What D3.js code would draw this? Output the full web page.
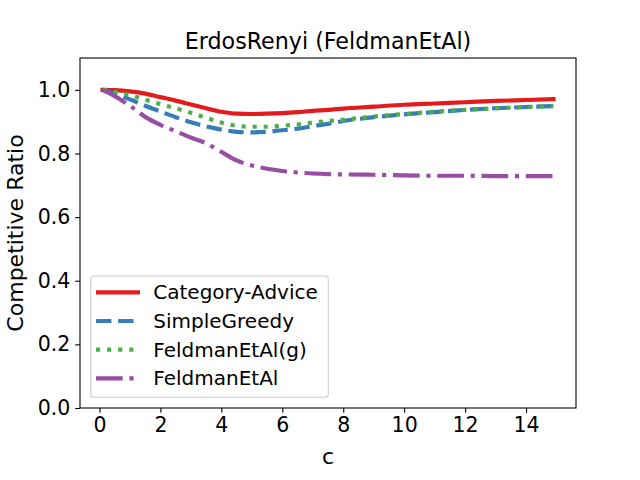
<!DOCTYPE html>
<html>
<head>
<meta charset="utf-8">
<script src="https://cdn.jsdelivr.net/npm/d3@7"></script>
<style>
body { margin: 0; background: #fff; }
svg { display: block; font-family: "DejaVu Sans", sans-serif; }
</style>
</head>
<body>
<svg id="chart" width="640" height="480"></svg>
<script>
const title = "ErdosRenyi (FeldmanEtAl)";
const xLabel = "c";
const yLabel = "Competitive Ratio";
const cValues = [0.1, 0.5, 1.0, 1.5, 2.0, 2.5, 3.0, 3.5, 4.0, 4.5, 5.0, 5.5, 6.0, 6.5, 7.0, 7.5, 8, 9, 10, 11, 12, 13, 14, 14.9];
const seriesNames = ["Category-Advice", "SimpleGreedy", "FeldmanEtAl(g)", "FeldmanEtAl"];
const categoryAdvice = [1.000, 0.999, 0.995, 0.988, 0.977, 0.966, 0.954, 0.942, 0.931, 0.925, 0.924, 0.925, 0.927, 0.930, 0.934, 0.937, 0.941, 0.947, 0.953, 0.957, 0.961, 0.965, 0.968, 0.971];
const simpleGreedy = [1.000, 0.988, 0.970, 0.950, 0.932, 0.914, 0.898, 0.885, 0.875, 0.868, 0.866, 0.868, 0.873, 0.878, 0.886, 0.893, 0.902, 0.914, 0.923, 0.930, 0.937, 0.942, 0.946, 0.949];
const feldmanG = [1.000, 0.994, 0.983, 0.969, 0.955, 0.942, 0.928, 0.912, 0.897, 0.887, 0.884, 0.884, 0.887, 0.891, 0.897, 0.902, 0.906, 0.916, 0.924, 0.931, 0.937, 0.942, 0.946, 0.949];
const feldman = [1.000, 0.980, 0.950, 0.915, 0.890, 0.870, 0.850, 0.832, 0.805, 0.778, 0.762, 0.752, 0.745, 0.740, 0.737, 0.735, 0.734, 0.733, 0.731, 0.730, 0.730, 0.729, 0.729, 0.729];
const xTicks = [0, 2, 4, 6, 8, 10, 12, 14];
const yTicks = [0.0, 0.2, 0.4, 0.6, 0.8, 1.0];

const allSeries = [categoryAdvice, simpleGreedy, feldmanG, feldman];
const colors = ["#e41a1c", "#377eb8", "#4daf4a", "#984ea3"];
const lw = 4.17;
const dashes = [null, "15.4,6.7", "4.17,6.9", "26.7,6.7,4.17,6.7"];

const L = 80, R = 576, T = 58, B = 408;
const svg = d3.select("#chart");

const x = d3.scaleLinear().domain([-0.64, 15.64]).range([L, R]);
const y = d3.scaleLinear().domain([0, 1.1]).range([B, T]);

svg.append("defs").append("clipPath").attr("id", "clip")
  .append("rect").attr("x", L).attr("y", T).attr("width", R - L).attr("height", B - T);

const line = d3.line().x(d => x(d[0])).y(d => y(d[1])).curve(d3.curveMonotoneX);

const g = svg.append("g").attr("clip-path", "url(#clip)");
allSeries.forEach((vals, i) => {
  const pts = cValues.map((c, j) => [c, vals[j]]);
  g.append("path")
    .attr("d", line(pts))
    .attr("fill", "none")
    .attr("stroke", colors[i])
    .attr("stroke-width", lw)
    .attr("stroke-dasharray", dashes[i])
    .attr("stroke-linecap", i === 0 ? "square" : "butt")
    .attr("stroke-linejoin", "round");
});

// axes
const xAxis = d3.axisBottom(x).tickValues(xTicks).tickFormat(d3.format("d")).tickSize(4.86).tickPadding(4.86);
const yAxis = d3.axisLeft(y).tickValues(yTicks).tickFormat(d3.format(".1f")).tickSize(4.86).tickPadding(4.86);

const gx = svg.append("g").attr("transform", `translate(0,${B})`).call(xAxis);
const gy = svg.append("g").attr("transform", `translate(${L},0)`).call(yAxis);
[gx, gy].forEach(a => {
  a.select(".domain").remove();
  a.selectAll(".tick line").attr("stroke", "#000").attr("stroke-width", 1.1);
  a.selectAll(".tick text").attr("fill", "#000").style("font-size", "20.5px").style("font-family", "DejaVu Sans");
});

// spines
svg.append("rect").attr("x", L).attr("y", T).attr("width", R - L).attr("height", B - T)
  .attr("fill", "none").attr("stroke", "#000").attr("stroke-width", 1.1);

// title and labels
svg.append("text").attr("x", (L + R) / 2).attr("y", 48.5).attr("text-anchor", "middle")
  .style("font-size", "22.2px").text(title);
svg.append("text").attr("x", (L + R) / 2).attr("y", 463.5).attr("text-anchor", "middle")
  .style("font-size", "22px").text(xLabel);
svg.append("text").attr("transform", `translate(23,${(T + B) / 2}) rotate(-90)`).attr("text-anchor", "middle")
  .style("font-size", "22px").text(yLabel);

// legend
const lg = svg.append("g");
lg.append("rect").attr("x", 90.7).attr("y", 276).attr("width", 237.6).attr("height", 121.3)
  .attr("rx", 3).attr("fill", "#fff").attr("fill-opacity", 0.8).attr("stroke", "#cccccc").attr("stroke-width", 1.1);
const rowY = [292.3, 321, 349.6, 378.3];
seriesNames.forEach((name, i) => {
  lg.append("line").attr("x1", 96).attr("x2", 140).attr("y1", rowY[i]).attr("y2", rowY[i])
    .attr("stroke", colors[i]).attr("stroke-width", lw)
    .attr("stroke-dasharray", dashes[i]).attr("stroke-linecap", "butt");
  lg.append("text").attr("x", 153.3).attr("y", rowY[i]).attr("dy", "0.35em")
    .style("font-size", "20px").text(name);
});
</script>
</body>
</html>
